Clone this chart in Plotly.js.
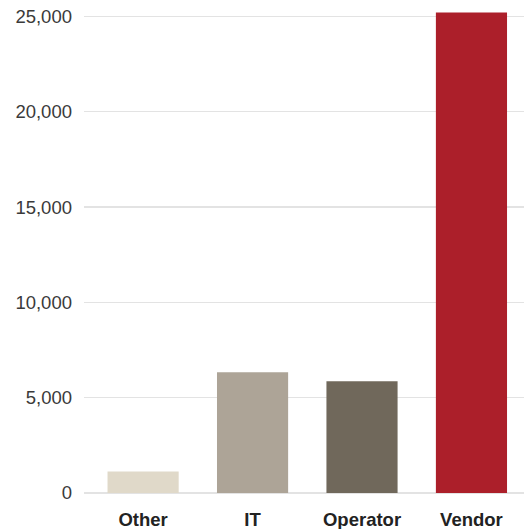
<!DOCTYPE html>
<html>
<head>
<meta charset="utf-8">
<script src="https://cdn.plot.ly/plotly-3.0.1.min.js"></script>
<style>html,body{margin:0;padding:0;background:#fff;}#chart{width:524px;height:529px;}</style>
</head>
<body>
<div id="chart"></div>
<script>
const categories = ["Other", "IT", "Operator", "Vendor"];
const values = [1130, 6330, 5860, 25200];
const barColors = ["#e0d9c9", "#ada497", "#70685b", "#ac1f2a"];
const yTickVals = [0, 5000, 10000, 15000, 20000, 25000];
const yTickText = ["0", "5,000", "10,000", "15,000", "20,000", "25,000"];

const trace = {
  type: "bar",
  x: categories,
  y: values,
  marker: { color: barColors },
  hoverinfo: "none"
};

const layout = {
  width: 524,
  height: 529,
  margin: { l: 84, r: 0, t: 0, b: 36 },
  paper_bgcolor: "#fff",
  plot_bgcolor: "#fff",
  showlegend: false,
  bargap: 0.35,
  font: { family: "Liberation Sans, Arial, sans-serif" },
  xaxis: {
    type: "category",
    range: [-0.54, 3.48],
    showgrid: false,
    showline: false,
    zeroline: false,
    ticks: "",
    tickfont: { size: 18.5, color: "#222", weight: "bold" },
    ticklabelstandoff: 13
  },
  yaxis: {
    range: [0, 25860],
    tickvals: yTickVals,
    ticktext: yTickText,
    showgrid: true,
    gridcolor: "#e3e3e3",
    gridwidth: 1.5,
    zeroline: true,
    zerolinecolor: "#e3e3e3",
    zerolinewidth: 1.5,
    showline: false,
    ticks: "",
    tickfont: { size: 18.5, color: "#3a3a3a" },
    ticklabelstandoff: 11
  }
};

Plotly.newPlot("chart", [trace], layout, { staticPlot: true, displayModeBar: false });
</script>
</body>
</html>
